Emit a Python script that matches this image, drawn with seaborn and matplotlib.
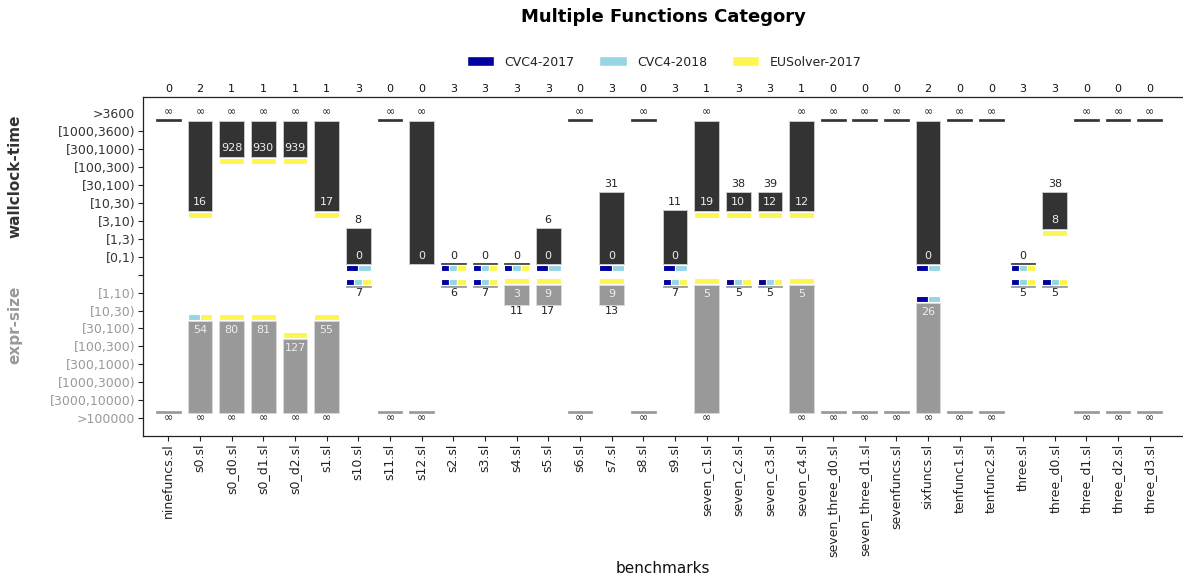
import numpy as np
import matplotlib
matplotlib.use("Agg")
import matplotlib.pyplot as plt
from matplotlib.patches import Patch
import seaborn as sns

inf = float("inf")

# ---------------------------------------------------------------------------
# Data
# ---------------------------------------------------------------------------

benchmarks = [
    "ninefuncs.sl", "s0.sl", "s0_d0.sl", "s0_d1.sl", "s0_d2.sl", "s1.sl",
    "s10.sl", "s11.sl", "s12.sl", "s2.sl", "s3.sl", "s4.sl", "s5.sl", "s6.sl",
    "s7.sl", "s8.sl", "s9.sl", "seven_c1.sl", "seven_c2.sl", "seven_c3.sl",
    "seven_c4.sl", "seven_three_d0.sl", "seven_three_d1.sl", "sevenfuncs.sl",
    "sixfuncs.sl", "tenfunc1.sl", "tenfunc2.sl", "three.sl", "three_d0.sl",
    "three_d1.sl", "three_d2.sl", "three_d3.sl",
]

solved = [0, 2, 1, 1, 1, 1, 3, 0, 0, 3, 3, 3, 3, 0, 3, 0, 3, 1, 3, 3, 1, 0,
          0, 0, 2, 0, 0, 3, 3, 0, 0, 0]

time_min = [inf, 16, 928, 930, 939, 17, 0, inf, 0, 0, 0, 0, 0, inf, 0, inf,
            0, 19, 10, 12, 12, inf, inf, inf, 0, inf, inf, 0, 8, inf, inf, inf]
time_max = [inf, inf, inf, inf, inf, inf, 8, inf, inf, 0, 0, 0, 6, inf, 31,
            inf, 11, inf, 38, 39, inf, inf, inf, inf, inf, inf, inf, 0, 38,
            inf, inf, inf]
# a = CVC4-2017, b = CVC4-2018, c = EUSolver-2017
time_win = ["", "c", "c", "c", "c", "c", "ab", "", "", "abc", "abc", "abc",
            "ab", "", "ab", "", "ab", "c", "c", "c", "c", "", "", "", "ab",
            "", "", "abc", "c", "", "", ""]

size_min = [inf, 54, 80, 81, 127, 55, 7, inf, inf, 6, 7, 3, 9, inf, 9, inf,
            7, 5, 5, 5, 5, inf, inf, inf, 26, inf, inf, 5, 5, inf, inf, inf]
size_max = [inf, inf, inf, inf, inf, inf, 7, inf, inf, 6, 7, 11, 17, inf, 13,
            inf, 7, inf, 5, 5, inf, inf, inf, inf, inf, inf, inf, 5, 5, inf,
            inf, inf]
size_win = ["", "bc", "c", "c", "c", "c", "abc", "", "", "abc", "abc", "c",
            "c", "", "c", "", "abc", "c", "abc", "abc", "c", "", "", "", "ab",
            "", "", "abc", "abc", "", "", ""]

time_edges = [1, 3, 10, 30, 100, 300, 1000, 3600]
time_labels = ["[0,1)", "[1,3)", "[3,10)", "[10,30)", "[30,100)",
               "[100,300)", "[300,1000)", "[1000,3600)", ">3600"]
size_edges = [10, 30, 100, 300, 1000, 3000, 10000]
size_labels = ["[1,10)", "[10,30)", "[30,100)", "[100,300)", "[300,1000)",
               "[1000,3000)", "[3000,10000)", ">100000"]

solvers = ["CVC4-2017", "CVC4-2018", "EUSolver-2017"]
solver_colors = {"a": "#0000a0", "b": "#96d5e3", "c": "#fdf651"}

DARK = "#333333"
GREY = "#999999"

# ---------------------------------------------------------------------------
# Helpers
# ---------------------------------------------------------------------------


def time_row(v):
    # [0,1) sits on row 9, >3600 on row 17
    return 9 + int(np.digitize(v, time_edges))


def size_row(v):
    # [1,10) sits on row 7, >100000 on row 0
    return 7 - int(np.digitize(v, size_edges))


def fmt(v):
    return "\u221e" if np.isinf(v) else f"{v:g}"


def draw_winners(ax, x, y0, y1, winners, width):
    if not winners:
        return
    w = width / len(winners)
    for k, s in enumerate(winners):
        ax.bar(x - width / 2 + k * w, y1 - y0, bottom=y0, width=w,
               align="edge", color=solver_colors[s], edgecolor="white",
               linewidth=0.8)


# ---------------------------------------------------------------------------
# Plot
# ---------------------------------------------------------------------------

sns.set_theme(style="ticks")
plt.rcParams["font.family"] = ["DejaVu Sans"]

fig = plt.figure(figsize=(11.83, 5.83), dpi=100)
ax = fig.add_axes([143 / 1183, 1 - 436 / 583, 1 - 143 / 1183, (436 - 97) / 583])

x = np.arange(len(benchmarks))
width = 0.78

for i in x:
    # wallclock-time bar, hanging down from the slowest bin
    lo, hi = time_row(time_min[i]), time_row(time_max[i])
    bottom = lo - 0.42
    if hi != lo:
        ax.bar(i, hi - 0.40 - bottom, bottom=bottom, width=width, color=DARK,
               edgecolor="#c8c8c8", linewidth=0.7)
        ax.text(i, lo + 0.05, fmt(time_min[i]), ha="center", va="center",
                fontsize=8, color="#eeeeee")
    else:
        ax.bar(i, 0.09, bottom=bottom, width=width, color=DARK,
               edgecolor=DARK, linewidth=0.5)
    ax.text(i, hi + 0.06, fmt(time_max[i]), ha="center", va="center",
            fontsize=8, color="#222222")
    draw_winners(ax, i, bottom - 0.39, bottom - 0.06, time_win[i], width)

    # expr-size bar, standing up from the biggest bin
    lo, hi = size_row(size_min[i]), size_row(size_max[i])
    bottom = hi + 0.31
    if hi != lo:
        top = lo + 0.43
        ax.bar(i, top - bottom, bottom=bottom, width=width, color=GREY,
               edgecolor="#d8d8d8", linewidth=0.7)
        ax.text(i, lo - 0.07, fmt(size_min[i]), ha="center", va="center",
                fontsize=8, color="#eeeeee")
    else:
        top = lo + 0.40
        ax.bar(i, top - bottom, bottom=bottom, width=width, color=GREY,
               edgecolor=GREY, linewidth=0.5)
    ax.text(i, hi - 0.02, fmt(size_max[i]), ha="center", va="center",
            fontsize=8, color="#222222")
    draw_winners(ax, i, top + 0.04, top + 0.37, size_win[i], width)

# y axis: size rows 0..7, a spacer at 8, time rows 9..17
yticks = np.arange(18)
ylabels = size_labels[::-1] + [""] + time_labels
ax.set_yticks(yticks)
ax.set_yticklabels(ylabels, fontsize=9)
ax.yaxis.get_major_ticks()[-1].tick1line.set_visible(False)
ax.set_ylim(-1, 17.92)

ax.set_xticks(x)
ax.set_xticklabels(benchmarks, rotation=90, fontsize=9)
ax.set_xlim(-0.8, 32.05)
ax.set_xlabel("benchmarks", fontsize=11, labelpad=3, color="#111111")
ax.tick_params(axis="both", length=3.5, width=0.8, colors="#222222",
               pad=2)
for t, lab in zip(ax.get_yticklabels(), yticks):
    t.set_color(GREY if lab < 8 else DARK)

top_ax = ax.secondary_xaxis("top")
top_ax.set_xticks(x)
top_ax.set_xticklabels([str(s) for s in solved], fontsize=8)
top_ax.tick_params(length=0, pad=2, colors="#111111")

for side in ["left", "bottom", "top"]:
    ax.spines[side].set_color("#222222")
    ax.spines[side].set_linewidth(0.9)
top_ax.spines["top"].set_visible(False)
ax.spines["right"].set_visible(False)

fig.text(15 / 1183, 1 - 176 / 583, "wallclock-time", rotation=90,
         ha="center", va="center", fontsize=11, fontweight="bold",
         color=DARK)
fig.text(15 / 1183, 1 - 325 / 583, "expr-size", rotation=90,
         ha="center", va="center", fontsize=11, fontweight="bold",
         color=GREY)

fig.text(663 / 1183, 1 - 17 / 583, "Multiple Functions Category",
         ha="center", va="center", fontsize=13, fontweight="bold",
         color="black")

handles = [Patch(facecolor=solver_colors[k], label=n)
           for k, n in zip("abc", solvers)]
fig.legend(handles=handles, loc="center", ncol=3, frameon=False,
           bbox_to_anchor=(664 / 1183, 1 - 62 / 583), fontsize=9,
           handlelength=2.2, handleheight=0.8, columnspacing=2.0,
           labelcolor="#222222")

fig.savefig("out.png", dpi=100)
